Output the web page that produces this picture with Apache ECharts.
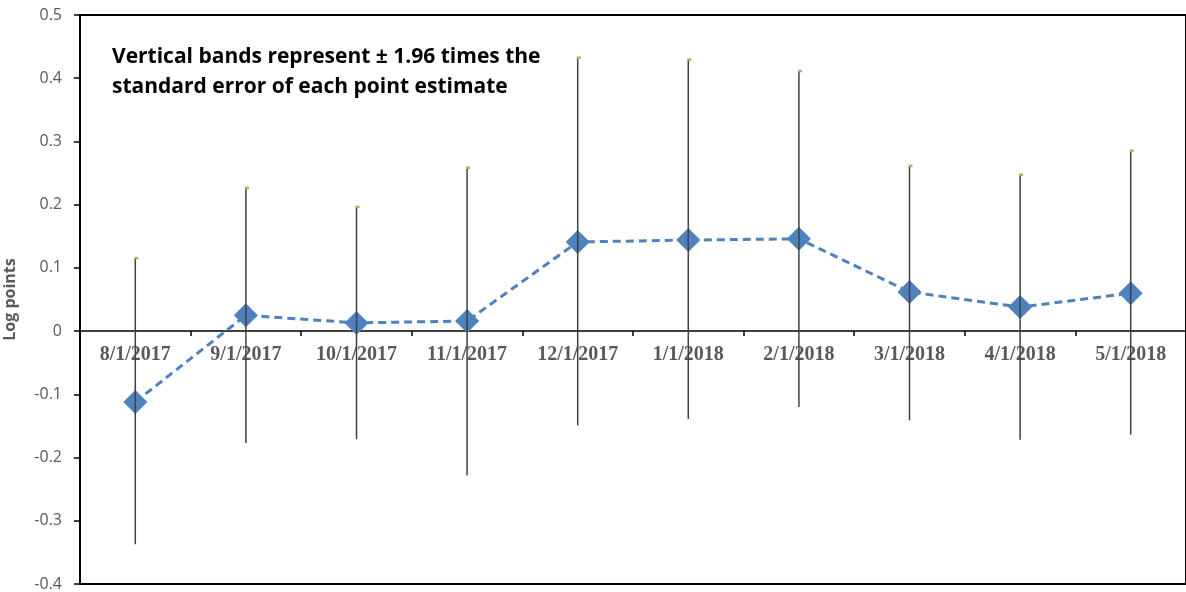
<!DOCTYPE html>
<html>
<head>
<meta charset="utf-8">
<script src="https://cdn.jsdelivr.net/npm/echarts@6/dist/echarts.min.js"></script>
<style>html,body{margin:0;padding:0;background:#fff}#c{width:1186px;height:592px}</style>
</head>
<body>
<div id="c"></div>
<script>
const categories = ['8/1/2017','9/1/2017','10/1/2017','11/1/2017','12/1/2017','1/1/2018','2/1/2018','3/1/2018','4/1/2018','5/1/2018'];
const estimates = [-0.112, 0.025, 0.013, 0.016, 0.141, 0.144, 0.146, 0.062, 0.038, 0.060];
const lowerBand = [-0.337, -0.177, -0.171, -0.228, -0.149, -0.139, -0.120, -0.141, -0.172, -0.164];
const upperBand = [0.115, 0.226, 0.196, 0.258, 0.432, 0.429, 0.411, 0.261, 0.247, 0.285];
const yTicks = {min: -0.4, max: 0.5, interval: 0.1};
const note = ['Vertical bands represent \u00B1 1.96 times the', 'standard error of each point estimate'];

const chart = echarts.init(document.getElementById('c'), null, {renderer: 'canvas'});
const bandData = categories.map((c, i) => [i, lowerBand[i], upperBand[i]]);

const option = {
  animation: false,
  backgroundColor: '#fff',
  grid: {left: 80, right: 0, top: 15, bottom: 8, show: true, borderColor: '#000', borderWidth: 2,
         backgroundColor: 'transparent', outerBoundsMode: 'none', containLabel: false},
  xAxis: {
    type: 'category',
    data: categories,
    boundaryGap: true,
    offset: 0,
    axisLine: {onZero: false, lineStyle: {color: '#000', width: 1.5}},
    axisTick: {show: true, length: 5, lineStyle: {color: '#000', width: 1.5}},
    axisLabel: {color: '#595959', fontFamily: 'Liberation Serif', fontWeight: 'bold', fontSize: 20, margin: 14, interval: 0},
    splitLine: {show: false}
  },
  yAxis: {
    type: 'value',
    min: yTicks.min, max: yTicks.max, interval: yTicks.interval,
    name: 'Log points',
    nameLocation: 'middle',
    nameGap: 62,
    nameTextStyle: {color: '#595959', fontFamily: 'Open Sans', fontWeight: 'bold', fontSize: 16},
    axisLine: {show: true, lineStyle: {color: '#000', width: 2}},
    axisTick: {show: true, length: 6, lineStyle: {color: '#000', width: 1.5}},
    axisLabel: {color: '#595959', fontFamily: 'Open Sans', fontSize: 16, margin: 18},
    splitLine: {show: false}
  },
  graphic: [{
    type: 'text', left: 112, top: 42,
    style: {text: note.join('\n'), font: 'bold 21px "Open Sans"', fill: '#000', lineHeight: 30}
  }],
  series: [
    {
      type: 'line',
      data: estimates,
      symbol: 'diamond',
      symbolSize: 24,
      itemStyle: {color: '#4F81BD'},
      lineStyle: {color: '#4F81BD', width: 3, type: [8, 5]},
      z: 3
    },
    {
      type: 'custom',
      data: bandData,
      z: 5,
      renderItem: function (params, api) {
        const x = api.value(0);
        const lo = api.coord([x, api.value(1)]);
        const hi = api.coord([x, api.value(2)]);
        return {type: 'group', children: [
          {type: 'line', shape: {x1: lo[0], y1: lo[1], x2: hi[0], y2: hi[1]}, style: {stroke: '#404040', lineWidth: 1.5}},
          {type: 'rect', shape: {x: hi[0] - 1, y: hi[1] - 1.5, width: 4, height: 2.5}, style: {fill: '#9BBB59'}}
        ]};
      }
    }
  ]
};
chart.setOption(option);
// Move the category axis (line, ticks, labels) up to the value-axis zero line.
const zeroY = chart.convertToPixel({yAxisIndex: 0}, 0);
const bottomY = chart.convertToPixel({yAxisIndex: 0}, yTicks.min);
chart.setOption({xAxis: {offset: -(bottomY - zeroY)}});
</script>
</body>
</html>
